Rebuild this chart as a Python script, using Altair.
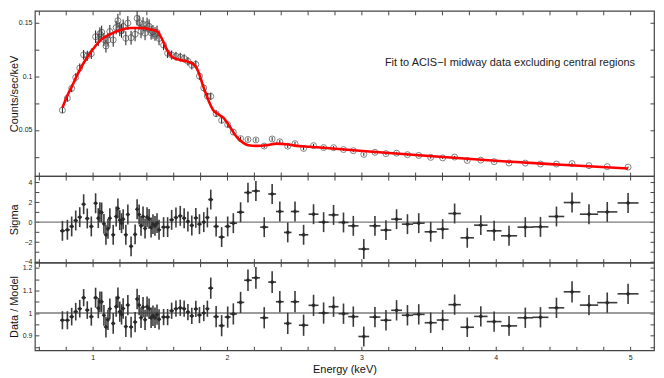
import altair as alt
import pandas as pd

# ---------------- data ----------------
energy = [0.775, 0.812, 0.844, 0.874, 0.904, 0.933, 0.960, 0.990, 1.022, 1.042,
          1.054, 1.067, 1.084, 1.099, 1.114, 1.128, 1.153, 1.175, 1.188, 1.202,
          1.215, 1.227, 1.247, 1.262, 1.286, 1.316, 1.331, 1.346, 1.360, 1.375,
          1.390, 1.405, 1.420, 1.435, 1.449, 1.464, 1.479, 1.494, 1.528, 1.558,
          1.588, 1.620, 1.652, 1.681, 1.709, 1.738, 1.768, 1.795, 1.827, 1.854,
          1.879, 1.919, 1.960, 2.005, 2.047, 2.101, 2.156, 2.215, 2.277, 2.336,
          2.393, 2.452, 2.506, 2.570, 2.644, 2.719, 2.793, 2.867, 2.940, 3.018,
          3.101, 3.183, 3.262, 3.343, 3.427, 3.516, 3.605, 3.694, 3.788, 3.889,
          3.988, 4.099, 4.220, 4.333, 4.452, 4.568, 4.694, 4.830, 4.985]

half_width = [0.018, 0.017, 0.016, 0.015, 0.015, 0.014, 0.014, 0.015, 0.013, 0.008,
              0.006, 0.007, 0.008, 0.008, 0.007, 0.009, 0.011, 0.009, 0.007, 0.007,
              0.006, 0.008, 0.009, 0.010, 0.013, 0.011, 0.007, 0.007, 0.007, 0.007,
              0.008, 0.007, 0.007, 0.007, 0.007, 0.007, 0.008, 0.012, 0.016, 0.015,
              0.016, 0.016, 0.015, 0.014, 0.014, 0.015, 0.014, 0.015, 0.014, 0.013,
              0.018, 0.020, 0.022, 0.022, 0.027, 0.027, 0.028, 0.030, 0.030, 0.029,
              0.029, 0.028, 0.031, 0.035, 0.037, 0.037, 0.037, 0.037, 0.038, 0.040,
              0.041, 0.040, 0.040, 0.042, 0.044, 0.045, 0.044, 0.046, 0.050, 0.050,
              0.055, 0.060, 0.058, 0.059, 0.058, 0.062, 0.068, 0.075, 0.078]

counts = [0.0684, 0.0795, 0.0887, 0.0989, 0.1076, 0.1199, 0.1190, 0.1209, 0.1367, 0.1340,
          0.1395, 0.1410, 0.1341, 0.1281, 0.1337, 0.1415, 0.1337, 0.1453, 0.1516, 0.1436,
          0.1422, 0.1463, 0.1353, 0.1494, 0.1358, 0.1390, 0.1538, 0.1499, 0.1418, 0.1484,
          0.1400, 0.1480, 0.1464, 0.1404, 0.1412, 0.1393, 0.1407, 0.1351, 0.1289, 0.1213,
          0.1197, 0.1186, 0.1177, 0.1165, 0.1139, 0.1102, 0.1110, 0.1001, 0.0891, 0.0815,
          0.0813, 0.0651, 0.0590, 0.0550, 0.0480, 0.0419, 0.0411, 0.0407, 0.0350, 0.0416,
          0.0390, 0.0349, 0.0372, 0.0328, 0.0354, 0.0336, 0.0335, 0.0318, 0.0307, 0.0273,
          0.0292, 0.0280, 0.0284, 0.0270, 0.0263, 0.0245, 0.0240, 0.0248, 0.0216, 0.0219,
          0.0205, 0.0193, 0.0192, 0.0183, 0.0183, 0.0187, 0.0168, 0.0159, 0.0154]

counts_err = [0.0027, 0.0031, 0.0035, 0.0039, 0.0042, 0.0045, 0.0047, 0.0049, 0.0058, 0.0059,
              0.0060, 0.0060, 0.0061, 0.0061, 0.0062, 0.0062, 0.0063, 0.0063, 0.0064, 0.0064,
              0.0064, 0.0064, 0.0065, 0.0065, 0.0065, 0.0065, 0.0065, 0.0065, 0.0065, 0.0065,
              0.0065, 0.0065, 0.0065, 0.0064, 0.0064, 0.0064, 0.0064, 0.0063, 0.0047, 0.0044,
              0.0042, 0.0041, 0.0041, 0.0040, 0.0040, 0.0039, 0.0038, 0.0035, 0.0031, 0.0028,
              0.0034, 0.0031, 0.0029, 0.0026, 0.0023, 0.0019, 0.0017, 0.0017, 0.0017, 0.0017,
              0.0017, 0.0017, 0.0017, 0.0016, 0.0016, 0.0016, 0.0015, 0.0014, 0.0014, 0.0014,
              0.0013, 0.0013, 0.0013, 0.0012, 0.0012, 0.0012, 0.0011, 0.0011, 0.0010, 0.0010,
              0.0010, 0.0009, 0.0009, 0.0008, 0.0008, 0.0008, 0.0007, 0.0007, 0.0006]

sigma = [-0.87, -0.77, -0.43, 0.17, 0.50, 1.80, 0.37, -0.43, 1.90, 0.40,
         1.00, 0.97, -0.17, -1.27, -0.67, 0.40, -1.27, 0.57, 1.37, 0.20,
         -0.10, 0.30, -1.27, 0.77, -2.43, -1.23, 1.30, 0.77, -0.37, 0.57,
         -0.63, 0.50, 0.33, -0.53, -0.20, -0.37, -0.10, -0.77, -0.50, -0.50,
         0.23, 0.47, 0.63, 0.40, 0.07, -0.33, 0.43, -0.20, 0.00, 0.47,
         2.27, -0.43, -1.50, -0.43, -0.10, 1.00, 2.97, 3.13, -0.50, 2.83,
         1.07, -1.03, 1.07, -1.27, 0.80, 0.00, 0.73, -0.03, -0.37, -2.70,
         -0.37, -0.80, 0.30, -0.20, -0.10, -0.97, -0.70, 0.87, -1.57, -0.30,
         -0.87, -1.37, -0.50, -0.47, 0.57, 1.97, 0.80, 1.03, 1.93]

ratio = [0.968, 0.968, 0.984, 1.006, 1.019, 1.068, 1.013, 0.984, 1.068, 1.022,
         1.050, 1.050, 0.990, 0.938, 0.970, 1.019, 0.954, 1.028, 1.068, 1.006,
         0.994, 1.020, 0.940, 1.035, 0.938, 0.960, 1.062, 1.035, 0.979, 1.026,
         0.970, 1.028, 1.019, 0.979, 0.988, 0.979, 0.993, 0.972, 0.982, 0.982,
         1.010, 1.019, 1.023, 1.019, 1.004, 0.987, 1.018, 0.991, 1.000, 1.019,
         1.110, 0.984, 0.944, 0.982, 0.996, 1.047, 1.145, 1.156, 0.979, 1.137,
         1.050, 0.954, 1.050, 0.946, 1.034, 1.000, 1.028, 0.997, 0.984, 0.896,
         0.982, 0.968, 1.012, 0.990, 0.994, 0.957, 0.969, 1.037, 0.937, 0.985,
         0.962, 0.943, 0.979, 0.981, 1.023, 1.094, 1.035, 1.046, 1.085]

ratio_err = [0.040, 0.040, 0.039, 0.039, 0.039, 0.038, 0.039, 0.040, 0.044, 0.045,
             0.045, 0.045, 0.046, 0.046, 0.045, 0.045, 0.046, 0.045, 0.045, 0.045,
             0.045, 0.045, 0.046, 0.045, 0.046, 0.045, 0.045, 0.045, 0.045, 0.045,
             0.045, 0.045, 0.045, 0.045, 0.045, 0.045, 0.045, 0.045, 0.036, 0.036,
             0.036, 0.036, 0.036, 0.036, 0.036, 0.036, 0.036, 0.036, 0.036, 0.036,
             0.047, 0.047, 0.047, 0.047, 0.047, 0.047, 0.048, 0.048, 0.047, 0.048,
             0.047, 0.047, 0.047, 0.047, 0.047, 0.047, 0.045, 0.045, 0.045, 0.044,
             0.045, 0.045, 0.045, 0.045, 0.045, 0.045, 0.045, 0.045, 0.043, 0.045,
             0.045, 0.044, 0.045, 0.045, 0.045, 0.047, 0.045, 0.045, 0.045]

model_energy = [0.775, 0.812, 0.849, 0.886, 0.936, 0.998, 1.059, 1.133, 1.207, 1.281,
                1.356, 1.430, 1.480, 1.516, 1.553, 1.590, 1.652, 1.714, 1.763, 1.788,
                1.825, 1.862, 1.899, 1.936, 1.973, 2.022, 2.072, 2.121, 2.158, 2.220,
                2.294, 2.368, 2.442, 2.516, 2.615, 2.763, 3.010, 3.504, 3.998, 4.490,
                4.985]
model_counts = [0.0707, 0.0821, 0.0914, 0.1015, 0.1130, 0.1244, 0.1336, 0.1392, 0.1429, 0.1448,
                0.1448, 0.1435, 0.1417, 0.1346, 0.1244, 0.1182, 0.1151, 0.1133, 0.1099, 0.1037,
                0.0898, 0.0775, 0.0682, 0.0645, 0.0614, 0.0528, 0.0435, 0.0380, 0.0358, 0.0352,
                0.0358, 0.0373, 0.0367, 0.0352, 0.0343, 0.0330, 0.0305, 0.0257, 0.0213, 0.0176,
                0.0141]

note_text = ["Fit to ACIS\u2212I midway data excluding central regions"]
note_energy = [5.037]
note_counts = [0.1127]

sigma_ref = [0]
ratio_ref = [1]

x_ticks = [0.6, 0.8, 1.0, 1.2, 1.4, 1.6, 1.8, 2.0, 2.2, 2.4, 2.6, 2.8, 3.0,
           3.2, 3.4, 3.6, 3.8, 4.0, 4.2, 4.4, 4.6, 4.8, 5.0]
top_ticks = [0.025, 0.05, 0.075, 0.1, 0.125, 0.15]
sigma_ticks = [-4, -3, -2, -1, 0, 1, 2, 3, 4]
ratio_ticks = [0.85, 0.9, 0.95, 1.0, 1.05, 1.1, 1.15, 1.2]

# ---------------- tables ----------------
df = pd.DataFrame({
    "energy": energy, "hw": half_width, "counts": counts, "cerr": counts_err,
    "sigma": sigma, "ratio": ratio, "rerr": ratio_err,
})
df["e_lo"] = df["energy"] - df["hw"]
df["e_hi"] = df["energy"] + df["hw"]
df["c_lo"] = df["counts"] - df["cerr"]
df["c_hi"] = df["counts"] + df["cerr"]
df["s_lo"] = df["sigma"] - 1
df["s_hi"] = df["sigma"] + 1
df["r_lo"] = df["ratio"] - df["rerr"]
df["r_hi"] = df["ratio"] + df["rerr"]

model_df = pd.DataFrame({"energy": model_energy, "counts": model_counts})
note_df = pd.DataFrame({"energy": note_energy, "counts": note_counts, "text": note_text})
sig0_df = pd.DataFrame({"v": sigma_ref})
rat1_df = pd.DataFrame({"v": ratio_ref})

W = 622
H_TOP, H_MID, H_BOT = 166, 87, 88
FONT = "Liberation Sans"

xscale = alt.Scale(domain=[0.57, 5.178], nice=False, zero=False)
ys_top = alt.Scale(domain=[0.0071, 0.1608], nice=False, zero=False)
ys_sig = alt.Scale(domain=[-4.07, 4.63], nice=False, zero=False)
ys_rat = alt.Scale(domain=[0.835, 1.223], nice=False, zero=False)

INWARD = alt.ExprRef(expr="-4")   # ticks drawn inside the frame


def xaxis(orient, labels, title=""):
    kw = dict(orient=orient, values=x_ticks, labels=labels, tickSize=INWARD,
              domain=False, grid=False, labelFontSize=7, labelPadding=7, minExtent=0,
              labelExpr="abs(datum.value - round(datum.value)) < 0.01 ? format(datum.value, 'd') : ''")
    if title:
        kw.update(title=title, titleFontSize=11, titlePadding=3, titleFontWeight="normal")
    else:
        kw.update(title=None, maxExtent=0)
    return alt.Axis(**kw)


def yaxis(orient, ticks, expr, labels, title="", h=100):
    kw = dict(orient=orient, values=ticks, labels=labels, tickSize=INWARD,
              domain=False, grid=False, labelFontSize=7, labelPadding=7, labelExpr=expr,
              minExtent=0)
    if title:
        kw.update(title=title, titleFontSize=11, titleFontWeight="normal",
                  titleX=-20, titleY=h / 2, titleAngle=-90, titleAlign="center",
                  titleBaseline="middle")
    else:
        kw.update(title=None, maxExtent=0)
    return alt.Axis(**kw)


top_expr = "abs(datum.value*20 - round(datum.value*20)) < 0.01 ? format(datum.value, '~g') : ''"
sig_expr = "abs(datum.value % 2) < 0.01 ? format(datum.value, 'd') : ''"
rat_expr = "abs(datum.value*10 - round(datum.value*10)) < 0.01 ? format(datum.value, '~g') : ''"

base = alt.Chart(df)
ERR = "#1a1a1a"
RES = "#3a3a3a"

# ---------------- top panel ----------------
top_v = base.mark_rule(color=ERR, strokeWidth=1).encode(
    x=alt.X("energy:Q", scale=xscale, axis=None),
    y=alt.Y("c_lo:Q", scale=ys_top, axis=None), y2="c_hi:Q")
top_pts = base.mark_point(shape="circle", filled=False, size=36, color="#4a4a4a", strokeWidth=1).encode(
    x=alt.X("energy:Q", scale=xscale, axis=xaxis("top", False)),
    y=alt.Y("counts:Q", scale=ys_top, axis=yaxis("right", top_ticks, top_expr, False)))
top_line = alt.Chart(model_df).mark_line(color="#ff0000", strokeWidth=2.6, interpolate="monotone").encode(
    x=alt.X("energy:Q", scale=xscale, axis=xaxis("bottom", False)),
    y=alt.Y("counts:Q", scale=ys_top,
            axis=yaxis("left", top_ticks, top_expr, True, "Counts/sec/keV", H_TOP)))
note = alt.Chart(note_df).mark_text(align="right", baseline="middle", fontSize=11, font=FONT,
                                    color="#222").encode(
    x=alt.X("energy:Q", scale=xscale, axis=None),
    y=alt.Y("counts:Q", scale=ys_top, axis=None),
    text="text:N")
top = alt.layer(top_v, top_pts, top_line, note).resolve_axis(
    x="independent", y="independent").properties(width=W, height=H_TOP)

# ---------------- sigma panel ----------------
sig_zero = alt.Chart(sig0_df).mark_rule(color="#7a7a7a", strokeWidth=1.4).encode(
    y=alt.Y("v:Q", scale=ys_sig, axis=None))
sig_v = base.mark_rule(color=RES, strokeWidth=1.6).encode(
    x=alt.X("energy:Q", scale=xscale, axis=xaxis("bottom", False)),
    y=alt.Y("s_lo:Q", scale=ys_sig,
            axis=yaxis("left", sigma_ticks, sig_expr, True, "Sigma", H_MID)), y2="s_hi:Q")
sig_h = base.mark_rule(color=RES, strokeWidth=1.6).encode(
    x=alt.X("e_lo:Q", scale=xscale, axis=None), x2="e_hi:Q",
    y=alt.Y("sigma:Q", scale=ys_sig, axis=None))
sig_pts = base.mark_point(shape="diamond", filled=True, size=22, color="#2a2a2a", opacity=1).encode(
    x=alt.X("energy:Q", scale=xscale, axis=xaxis("top", False)),
    y=alt.Y("sigma:Q", scale=ys_sig, axis=yaxis("right", sigma_ticks, sig_expr, False)))
mid = alt.layer(sig_zero, sig_v, sig_h, sig_pts).resolve_axis(
    x="independent", y="independent").properties(width=W, height=H_MID)

# ---------------- ratio panel ----------------
rat_one = alt.Chart(rat1_df).mark_rule(color="#7a7a7a", strokeWidth=1.4).encode(
    y=alt.Y("v:Q", scale=ys_rat, axis=None))
rat_v = base.mark_rule(color=RES, strokeWidth=1.6).encode(
    x=alt.X("energy:Q", scale=xscale, axis=xaxis("bottom", True, "Energy (keV)")),
    y=alt.Y("r_lo:Q", scale=ys_rat,
            axis=yaxis("left", ratio_ticks, rat_expr, True, "Data / Model", H_BOT)), y2="r_hi:Q")
rat_h = base.mark_rule(color=RES, strokeWidth=1.6).encode(
    x=alt.X("e_lo:Q", scale=xscale, axis=None), x2="e_hi:Q",
    y=alt.Y("ratio:Q", scale=ys_rat, axis=None))
rat_pts = base.mark_point(shape="diamond", filled=True, size=22, color="#2a2a2a", opacity=1).encode(
    x=alt.X("energy:Q", scale=xscale, axis=xaxis("top", False)),
    y=alt.Y("ratio:Q", scale=ys_rat, axis=yaxis("right", ratio_ticks, rat_expr, False)))
bot = alt.layer(rat_one, rat_v, rat_h, rat_pts).resolve_axis(
    x="independent", y="independent").properties(width=W, height=H_BOT)

chart = alt.vconcat(top, mid, bot, spacing=0, bounds="flush").properties(padding=0).configure_view(
    stroke="#444", strokeWidth=1.2
).configure_axis(
    labelFont=FONT, titleFont=FONT, labelColor="#222", titleColor="#111",
    tickColor="#444", tickWidth=1
)

chart.save("out.html", embed_options={"renderer": "svg", "actions": False})
